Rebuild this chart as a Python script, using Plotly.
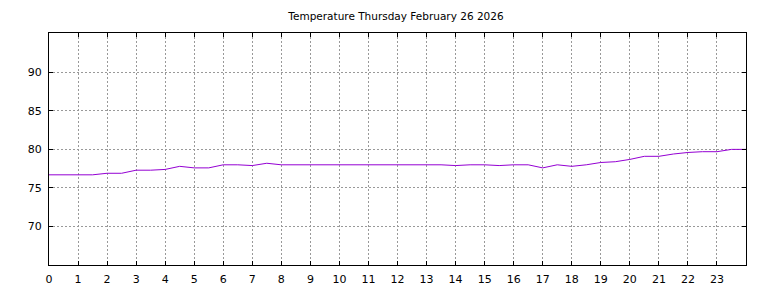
import plotly.graph_objects as go

hours = [i * 0.5 for i in range(49)]
temps = [76.7, 76.7, 76.7, 76.7, 76.9, 76.9, 77.3, 77.3, 77.4, 77.8,
         77.6, 77.6, 78.0, 78.0, 77.9, 78.2, 78.0, 78.0, 78.0, 78.0,
         78.0, 78.0, 78.0, 78.0, 78.0, 78.0, 78.0, 78.0, 77.9, 78.0,
         78.0, 77.9, 78.0, 78.0, 77.6, 78.0, 77.8, 78.0, 78.3, 78.4,
         78.7, 79.1, 79.1, 79.4, 79.6, 79.7, 79.7, 80.0, 80.0]
xticks = list(range(24))
yticks = [70, 75, 80, 85, 90]
title = "Temperature Thursday February 26 2026"

fig = go.Figure()
fig.add_trace(go.Scatter(x=hours, y=temps, mode="lines",
                         line=dict(color="#9400D3", width=1)))

axis_common = dict(showline=True, linecolor="black", linewidth=1, mirror="ticks",
                   ticks="inside", ticklen=4, tickcolor="black",
                   showgrid=True, gridcolor="#999999", griddash="2px,2px", gridwidth=1,
                   zeroline=False, automargin=False,
                   tickfont=dict(family="DejaVu Sans", size=11, color="black"))

fig.update_xaxes(range=[0, 24], tickvals=xticks, ticktext=[str(v) for v in xticks],
                 ticklabelstandoff=4, **axis_common)
fig.update_yaxes(range=[65, 95.1], tickvals=yticks, ticktext=[str(v) for v in yticks],
                 ticklabelstandoff=4, **axis_common)

fig.update_layout(
    width=768, height=288,
    margin=dict(l=49, r=22, t=33, b=23),
    paper_bgcolor="white", plot_bgcolor="white",
    showlegend=False,
    title=dict(text=title, x=396/768, xanchor="center", y=1 - 16/288, yanchor="middle",
               font=dict(family="DejaVu Sans", size=10.5, color="black")),
)

fig.write_html("out.html")
